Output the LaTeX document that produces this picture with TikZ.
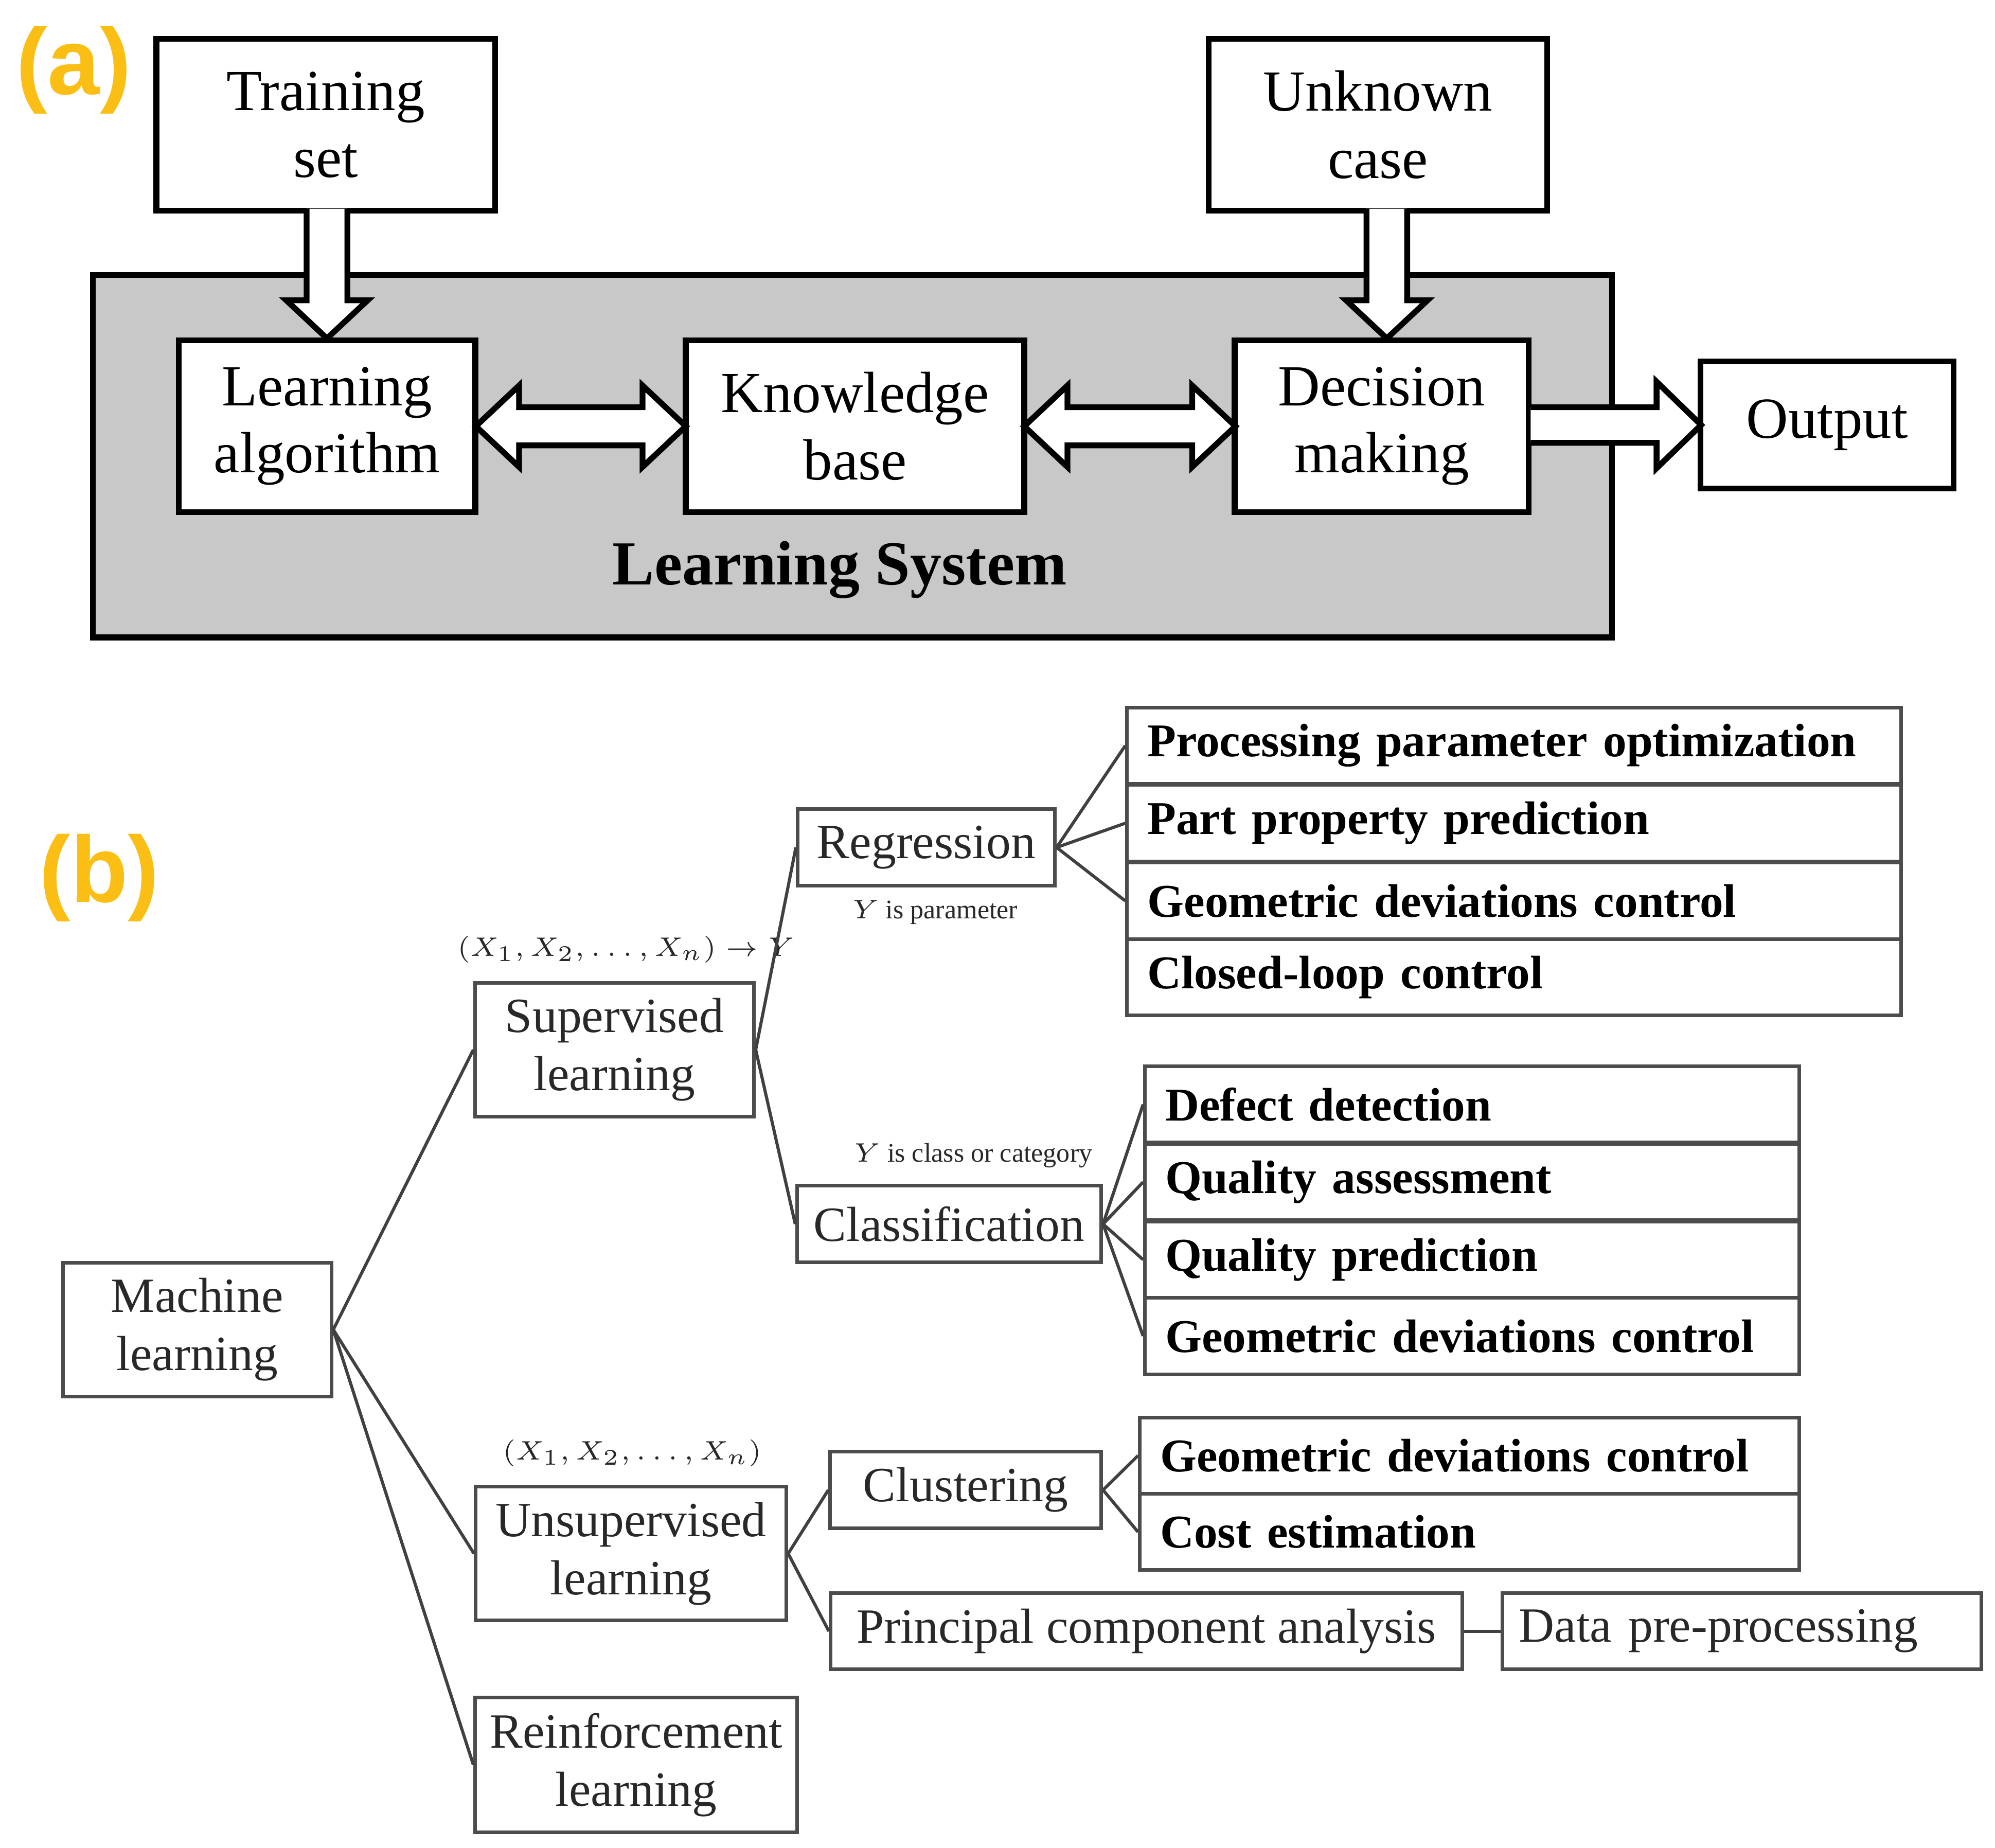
\documentclass[tikz,border=0pt]{standalone}
\usepackage{fontspec}
\setmainfont{Liberation Serif}
\newfontfamily\lblfont{Liberation Sans}
\usetikzlibrary{calc}
\definecolor{org}{RGB}{250,190,20}
\definecolor{sysgray}{RGB}{200,200,200}
\definecolor{txt}{RGB}{40,40,40}
\begin{document}
\begin{tikzpicture}[x=0.01cm,y=-0.01cm,
 abox/.style={draw,line width=1.3pt,fill=white,inner sep=0pt,align=center,font=\fontsize{13}{15}\selectfont},
 bbox/.style={draw=black!70,line width=0.8pt,inner sep=0pt,align=center,text=txt,font=\fontsize{11}{13}\selectfont},
 row/.style={draw=black!70,line width=0.8pt,inner sep=0pt,minimum height=0.6cm,text=black,font=\fontsize{10.5}{12}\selectfont\bfseries},
 blk/.style={draw,line width=1.3pt,fill=white,line join=miter},
 ln/.style={draw=black!75,line width=0.7pt},
 small/.style={font=\fontsize{6}{7}\selectfont,text=txt}]
\useasboundingbox (0,0) rectangle (1568,1452);
% (a)
\node[font=\lblfont\fontsize{21}{24}\selectfont\bfseries,text=org] (la_lbl) at (58,55) {(a)};
\draw[line width=1.3pt,fill=sysgray] (73,216) rectangle (1267,501);
\node[abox,minimum width=2.66cm,minimum height=1.35cm] (ts) at (256,98) {Training\\set};
\node[abox,minimum width=2.66cm,minimum height=1.35cm] (uc) at (1083,98) {Unknown\\case};
\node[abox,minimum width=2.33cm,minimum height=1.35cm] (la) at (257,335) {Learning\\algorithm};
\node[abox,minimum width=2.66cm,minimum height=1.35cm] (kb) at (672,335) {Knowledge\\base};
\node[abox,minimum width=2.31cm,minimum height=1.35cm] (dm) at (1086,335) {Decision\\making};
\node[abox,minimum width=1.99cm,minimum height=1.0cm] (out) at (1436,334) {Output};
\node[font=\fontsize{14}{17}\selectfont\bfseries] (ls) at (660,448) {Learning System};
% block arrows
\draw[blk] (241,164) -- (241,236) -- (225,236) -- (257,266) -- (289,236) -- (273,236) -- (273,164);
\draw[blk] (1074,164) -- (1074,236) -- (1058,236) -- (1090,266) -- (1122,236) -- (1106,236) -- (1106,164);
\draw[blk] (374,335) -- (408,303) -- (408,320) -- (505,320) -- (505,303) -- (539,335) -- (505,367) -- (505,350) -- (408,350) -- (408,367) -- cycle;
\draw[blk] (805,335) -- (839,303) -- (839,320) -- (937,320) -- (937,303) -- (971,335) -- (937,367) -- (937,350) -- (839,350) -- (839,367) -- cycle;
\draw[blk] (1203,320) -- (1302,320) -- (1302,300) -- (1337,334) -- (1302,368) -- (1302,348) -- (1203,348);
% (b)
\node[font=\lblfont\fontsize{21}{24}\selectfont\bfseries,text=org] (lb) at (78,690) {(b)};
\node[bbox,minimum width=2.11cm,minimum height=1.05cm] (ml) at (155,1045) {Machine\\learning};
\node[bbox,minimum width=2.19cm,minimum height=1.05cm] (sl) at (483,825) {Supervised\\learning};
\node[bbox,minimum width=2.44cm,minimum height=1.05cm] (ul) at (496,1221) {Unsupervised\\learning};
\node[bbox,minimum width=2.53cm,minimum height=1.06cm] (rl) at (500,1387) {Reinforcement\\learning};
\node[small] (sll) at (492,746) {$(X_1,X_2,\ldots,X_n)\rightarrow Y$};
\node[small] (ull) at (497,1142) {$(X_1,X_2,\ldots,X_n)$};
\node[bbox,minimum width=2.02cm,minimum height=0.6cm] (reg) at (728,666) {Regression};
\node[bbox,minimum width=2.39cm,minimum height=0.6cm] (cls) at (746,962) {Classification};
\node[small] (regl) at (735,717) {$Y$ is parameter};
\node[small] (clsl) at (765,908) {$Y$ is class or category};
\node[bbox,minimum width=2.13cm,minimum height=0.6cm] (clu) at (759,1171) {Clustering};
\node[bbox,minimum width=4.96cm,minimum height=0.6cm] (pca) at (901,1282) {Principal component analysis};
\node[bbox,minimum width=3.76cm,minimum height=0.6cm,text width=3.5cm,align=left] (dpp) at (1369,1282) {Data pre-processing};
% lists
\foreach \n/\y/\t in {r1/586/Processing parameter optimization, r2/647/Part property prediction, r3/708/Geometric deviations control, r4/768/Closed-loop control}
  \node[row,minimum width=6.08cm,text width=5.76cm,align=left] (\n) at (1190,\y) {\t};
\foreach \n/\y/\t in {c1/868/Defect detection, c2/929/Quality assessment, c3/990/Quality prediction, c4/1050/Geometric deviations control}
  \node[row,minimum width=5.14cm,text width=4.82cm,align=left] (\n) at (1157,\y) {\t};
\foreach \n/\y/\t in {k1/1144/Geometric deviations control, k2/1204/Cost estimation}
  \node[row,minimum width=5.18cm,text width=4.86cm,align=left] (\n) at (1155,\y) {\t};
% connectors
\draw[ln] (ml.east) -- (sl.west);
\draw[ln] (ml.east) -- (ul.west);
\draw[ln] (ml.east) -- (rl.west);
\draw[ln] (sl.east) -- (reg.west);
\draw[ln] (sl.east) -- (cls.west);
\draw[ln] (ul.east) -- (clu.west);
\draw[ln] (ul.east) -- (pca.west);
\draw[ln] (pca.east) -- (dpp.west);
\foreach \r in {r1,r2,r3} \draw[ln] (reg.east) -- (\r.west);
\foreach \r in {c1,c2,c3,c4} \draw[ln] (cls.east) -- (\r.west);
\foreach \r in {k1,k2} \draw[ln] (clu.east) -- (\r.west);
\end{tikzpicture}
\end{document}
